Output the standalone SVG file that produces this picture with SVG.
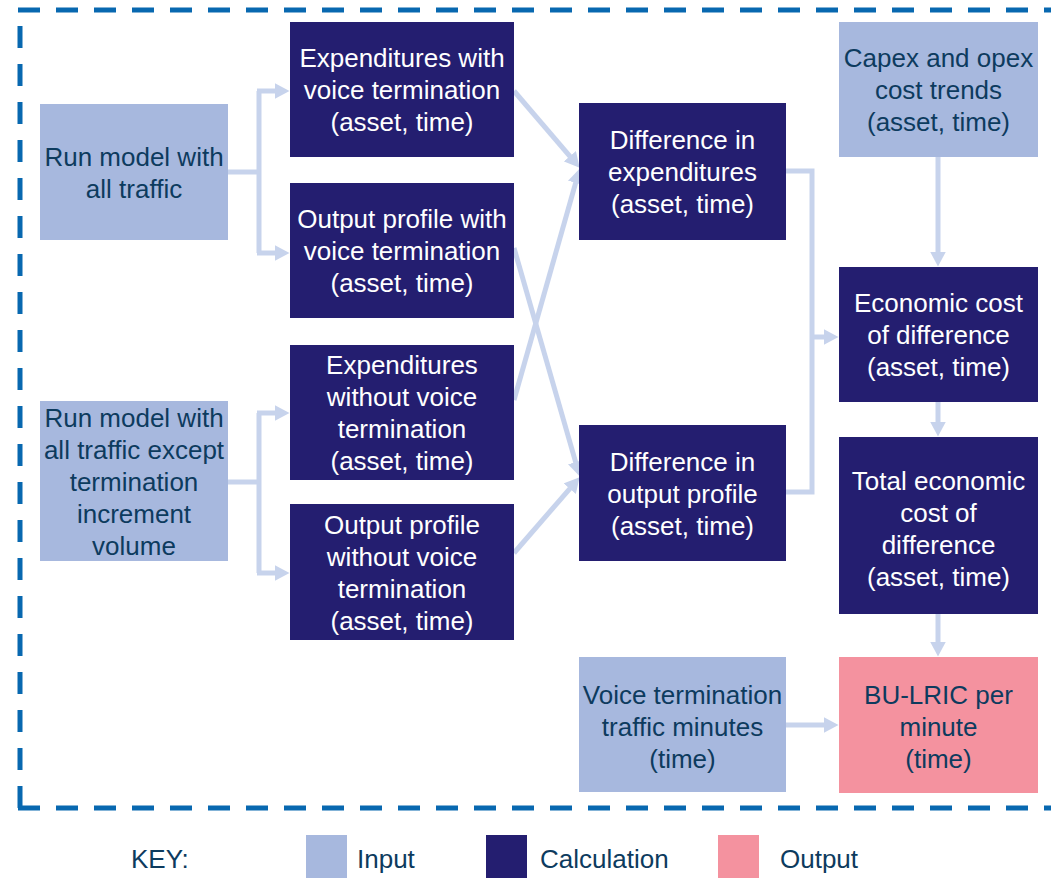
<svg xmlns="http://www.w3.org/2000/svg" width="1051" height="878" viewBox="0 0 1051 878">
<style>
.in{fill:#A7B8DE}
.calc{fill:#241E70}
.out{fill:#F4929F}
text{font-family:"Liberation Sans",Arial,sans-serif;font-size:26px;text-anchor:middle}
.dk{fill:#0D3B5E}
.wt{fill:#FFFFFF}
.con{fill:none;stroke:#C7D3EC;stroke-width:5}
.border{fill:none;stroke:#0868B0;stroke-width:5;stroke-dasharray:22 16}
.key{text-anchor:start;fill:#0D3B5E}
</style>
<defs>
<marker id="ah" markerUnits="userSpaceOnUse" markerWidth="16" markerHeight="16" refX="0.5" refY="8" orient="auto" viewBox="0 0 16 16">
<path d="M0,0 L15,8 L0,16 z" fill="#C7D3EC"/>
</marker>
</defs>
<g id="border">
<path class="border" d="M18,10 H1060"/>
<path class="border" d="M20,808 V10"/>
<path class="border" d="M18,808 H1060"/>
</g>
<g id="connectors">
<path class="con" d="M228,172 H259 M259,91 V253"/>
<path class="con" d="M257,91 H275" marker-end="url(#ah)"/>
<path class="con" d="M257,253 H275" marker-end="url(#ah)"/>
<path class="con" d="M228,482 H259 M259,413 V573"/>
<path class="con" d="M257,413 H275" marker-end="url(#ah)"/>
<path class="con" d="M257,573 H275" marker-end="url(#ah)"/>
<path class="con" d="M514,91 L570.2,156.7" marker-end="url(#ah)"/>
<path class="con" d="M514,248 L575.8,462.6" marker-end="url(#ah)"/>
<path class="con" d="M514,400 L575.8,182.4" marker-end="url(#ah)"/>
<path class="con" d="M514,553 L570.1,488.3" marker-end="url(#ah)"/>
<path class="con" d="M786,171 H812 V492 H786"/>
<path class="con" d="M812,337 H824" marker-end="url(#ah)"/>
<path class="con" d="M938,157 V252" marker-end="url(#ah)"/>
<path class="con" d="M938,402 V422" marker-end="url(#ah)"/>
<path class="con" d="M938,614 V642" marker-end="url(#ah)"/>
<path class="con" d="M786,725 H824" marker-end="url(#ah)"/>
</g>
<g id="n_run_all">
<rect class="in" x="40" y="104" width="188" height="136"/>
<text class="dk" x="134" y="165.5">Run model with</text>
<text class="dk" x="134" y="197.5">all traffic</text>
</g>
<g id="n_exp_with">
<rect class="calc" x="290" y="22" width="224" height="135"/>
<text class="wt" x="402" y="67">Expenditures with</text>
<text class="wt" x="402" y="99">voice termination</text>
<text class="wt" x="402" y="131">(asset, time)</text>
</g>
<g id="n_out_with">
<rect class="calc" x="290" y="183" width="224" height="135"/>
<text class="wt" x="402" y="228">Output profile with</text>
<text class="wt" x="402" y="260">voice termination</text>
<text class="wt" x="402" y="292">(asset, time)</text>
</g>
<g id="n_exp_without">
<rect class="calc" x="290" y="345" width="224" height="135"/>
<text class="wt" x="402" y="374">Expenditures</text>
<text class="wt" x="402" y="406">without voice</text>
<text class="wt" x="402" y="438">termination</text>
<text class="wt" x="402" y="470">(asset, time)</text>
</g>
<g id="n_out_without">
<rect class="calc" x="290" y="504" width="224" height="136"/>
<text class="wt" x="402" y="533.5">Output profile</text>
<text class="wt" x="402" y="565.5">without voice</text>
<text class="wt" x="402" y="597.5">termination</text>
<text class="wt" x="402" y="629.5">(asset, time)</text>
</g>
<g id="n_run_except">
<rect class="in" x="40" y="401" width="188" height="160"/>
<text class="dk" x="134" y="426.5">Run model with</text>
<text class="dk" x="134" y="458.5">all traffic except</text>
<text class="dk" x="134" y="490.5">termination</text>
<text class="dk" x="134" y="522.5">increment</text>
<text class="dk" x="134" y="554.5">volume</text>
</g>
<g id="n_diff_exp">
<rect class="calc" x="579" y="103" width="207" height="137"/>
<text class="wt" x="682.5" y="149">Difference in</text>
<text class="wt" x="682.5" y="181">expenditures</text>
<text class="wt" x="682.5" y="213">(asset, time)</text>
</g>
<g id="n_diff_out">
<rect class="calc" x="579" y="425" width="207" height="136"/>
<text class="wt" x="682.5" y="470.5">Difference in</text>
<text class="wt" x="682.5" y="502.5">output profile</text>
<text class="wt" x="682.5" y="534.5">(asset, time)</text>
</g>
<g id="n_capex">
<rect class="in" x="839" y="22" width="199" height="135"/>
<text class="dk" x="938.5" y="67">Capex and opex</text>
<text class="dk" x="938.5" y="99">cost trends</text>
<text class="dk" x="938.5" y="131">(asset, time)</text>
</g>
<g id="n_econ">
<rect class="calc" x="839" y="267" width="199" height="135"/>
<text class="wt" x="938.5" y="312">Economic cost</text>
<text class="wt" x="938.5" y="344">of difference</text>
<text class="wt" x="938.5" y="376">(asset, time)</text>
</g>
<g id="n_total">
<rect class="calc" x="839" y="437" width="199" height="177"/>
<text class="wt" x="938.5" y="489.5">Total economic</text>
<text class="wt" x="938.5" y="521.5">cost of</text>
<text class="wt" x="938.5" y="553.5">difference</text>
<text class="wt" x="938.5" y="585.5">(asset, time)</text>
</g>
<g id="n_voice">
<rect class="in" x="579" y="657" width="207" height="135"/>
<text class="dk" x="682.5" y="703.5">Voice termination</text>
<text class="dk" x="682.5" y="735.5">traffic minutes</text>
<text class="dk" x="682.5" y="767.5">(time)</text>
</g>
<g id="n_bulric">
<rect class="out" x="839" y="657" width="199" height="136"/>
<text class="dk" x="938.5" y="703.5">BU-LRIC per</text>
<text class="dk" x="938.5" y="735.5">minute</text>
<text class="dk" x="938.5" y="767.5">(time)</text>
</g>
<g id="key">
<text class="key" x="131" y="868">KEY:</text>
<rect class="in" x="306" y="835" width="41" height="43"/>
<text class="key" x="357" y="868">Input</text>
<rect class="calc" x="486" y="835" width="41" height="43"/>
<text class="key" x="540" y="868">Calculation</text>
<rect class="out" x="718" y="835" width="41" height="43"/>
<text class="key" x="780" y="868">Output</text>
</g>
</svg>
